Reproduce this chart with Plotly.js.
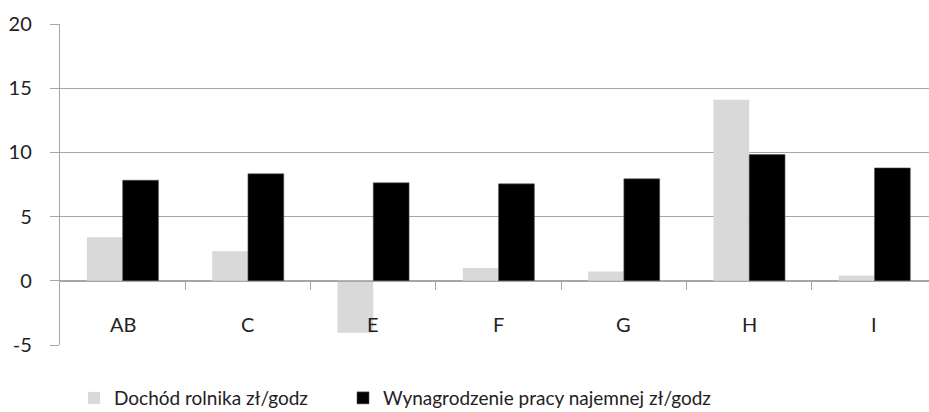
<!DOCTYPE html>
<html>
<head>
<meta charset="utf-8">
<script src="https://cdn.plot.ly/plotly-3.0.1.min.js"></script>
<style>html,body{margin:0;padding:0;background:#fff;}</style>
</head>
<body>
<div id="chart" style="width:929px;height:412px;"></div>
<script>
const categories = ['AB', 'C', 'E', 'F', 'G', 'H', 'I'];
const seriesNames = ['Dochód rolnika zł/godz', 'Wynagrodzenie pracy najemnej zł/godz'];
const farmerIncome = [3.4, 2.3, -4.05, 1.0, 0.72, 14.1, 0.41];
const hiredWage = [7.83, 8.33, 7.63, 7.55, 7.94, 9.83, 8.79];
const yTickVals = [-5, 0, 5, 10, 15, 20];
const yTickText = ['-5', '0', '5', '10', '15', '20'];

const idx = categories.map((c, i) => i);
const boundaries = categories.slice(1).map((c, i) => i + 0.5);
const gridColor = '#a6a6a6';
const font = 'Lato, "Open Sans", sans-serif';

const traces = [
  {type: 'bar', x: idx, y: farmerIncome, name: seriesNames[0], legend: 'legend',
   marker: {color: '#d9d9d9', line: {width: 0}}},
  {type: 'bar', x: idx, y: hiredWage, name: seriesNames[1], legend: 'legend2',
   marker: {color: '#000000', line: {color: '#555', width: 0.6}}}
];

const annotations = categories.map((c, i) => ({
  x: i, y: -3.4, xref: 'x', yref: 'y', text: c, showarrow: false,
  font: {family: font, size: 20, color: '#222'}
}));

const legendFont = {family: font, size: 19, color: '#222'};

const layout = {
  width: 929, height: 412,
  margin: {l: 60, r: 0, t: 24, b: 67, autoexpand: false},
  paper_bgcolor: '#fff', plot_bgcolor: '#fff',
  barmode: 'group', bargap: 0.4286, bargroupgap: 0,
  font: {family: font, size: 20, color: '#222'},
  xaxis: {
    range: [-0.5, 6.435], tickvals: boundaries, ticktext: boundaries.map(() => ''),
    ticks: 'outside', ticklen: 8, tickcolor: gridColor, tickwidth: 1,
    showline: true, linecolor: gridColor, linewidth: 1.2,
    showgrid: false, zeroline: false, anchor: 'free', position: 0.2, fixedrange: true
  },
  yaxis: {
    range: [-5, 20], tickvals: yTickVals, ticktext: yTickText,
    showgrid: true, gridcolor: gridColor, gridwidth: 1.2,
    ticks: 'outside', ticklen: 9, tickcolor: gridColor,
    ticklabelstandoff: 14,
    showline: true, linecolor: gridColor, linewidth: 1.2, zeroline: false,
    tickfont: {family: font, size: 20, color: '#222'}
  },
  annotations: annotations,
  showlegend: true,
  legend: {
    orientation: 'h', x: 14 / 869, xanchor: 'left', y: -0.106, yanchor: 'top',
    font: legendFont, itemwidth: 30
  },
  legend2: {
    orientation: 'h', x: 283 / 869, xanchor: 'left', y: -0.106, yanchor: 'top',
    font: legendFont, itemwidth: 30
  }
};

Plotly.newPlot('chart', traces, layout, {displayModeBar: false, staticPlot: true});
</script>
</body>
</html>
